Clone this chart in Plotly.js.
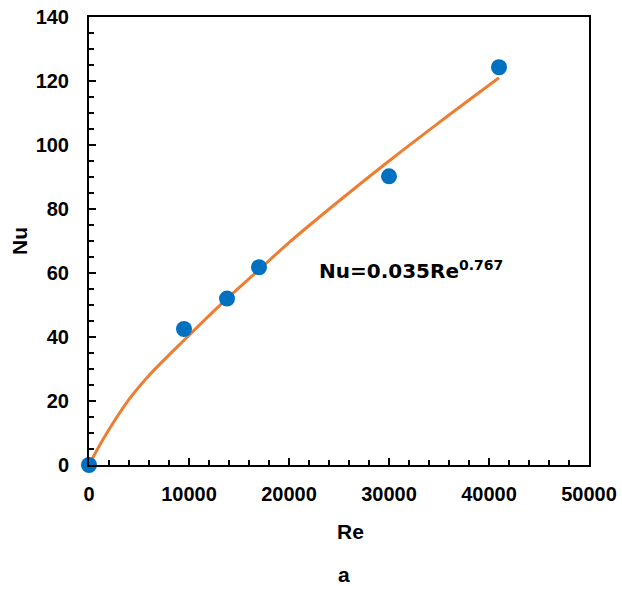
<!DOCTYPE html>
<html><head><meta charset="utf-8">
<script src="https://cdn.plot.ly/plotly-3.0.1.min.js"></script>
<style>html,body{margin:0;padding:0;background:#fff}</style>
</head><body>
<div id="chart" style="width:622px;height:589px"></div>
<script>
// Measured data
const reData = [0, 9500, 13800, 17000, 30000, 41000];
const nuData = [0, 42.5, 52, 61.8, 90.2, 124.3];
// Fitted correlation curve
const reFit = [0, 1500, 4000, 6000, 9500, 13800, 17000, 20000, 25000, 30000, 35000, 41000];
const nuFit = [0, 8.5, 20.5, 28, 39, 52, 61, 69.5, 82.5, 95, 107, 121];
const xTicks = [0, 10000, 20000, 30000, 40000, 50000];
const yTicks = [0, 20, 40, 60, 80, 100, 120, 140];

const fontFam = '"Liberation Sans", Arial, sans-serif';
const eqFam = '"DejaVu Sans", sans-serif';

const traces = [
  {x: reFit, y: nuFit, mode: 'lines', type: 'scatter',
   line: {color: '#ED7D31', width: 3, shape: 'spline', smoothing: 0.8},
   hoverinfo: 'skip', cliponaxis: false},
  {x: reData, y: nuData, mode: 'markers', type: 'scatter',
   marker: {color: '#0070C0', size: 16}, cliponaxis: false}
];

const axisCommon = {
  showgrid: false, zeroline: false, showline: true, linecolor: '#000', linewidth: 2,
  mirror: true, ticks: 'inside', ticklen: 7, tickwidth: 2, tickcolor: '#000',
  tickfont: {family: fontFam, size: 20, color: '#000', weight: 'bold'}
};

const pw = 622 - 89 - 33, ph = 589 - 17 - 124;
function px2paperX(px) { return (px - 89) / pw; }
function px2paperY(py) { return (465 - py) / ph; }
const tf = {family: fontFam, size: 21, color: '#000', weight: 'bold'};

const layout = {
  width: 622, height: 589,
  margin: {l: 89, r: 33, t: 17, b: 124},
  paper_bgcolor: '#fff', plot_bgcolor: '#fff',
  showlegend: false,
  xaxis: Object.assign({}, axisCommon, {
    range: [0, 50000], tickvals: xTicks, ticktext: xTicks.map(String),
    minor: {dtick: 2000, ticks: 'inside', ticklen: 5, tickwidth: 2, tickcolor: '#000'},
    ticklabelstandoff: 10
  }),
  yaxis: Object.assign({}, axisCommon, {
    range: [0, 140], tickvals: yTicks, ticktext: yTicks.map(String),
    minor: {dtick: 5, ticks: 'inside', ticklen: 5, tickwidth: 2, tickcolor: '#000'},
    ticklabelstandoff: 14
  }),
  annotations: [
    {text: 'Nu=0.035Re<sup>0.767</sup>', x: 22800, y: 61, xref: 'x', yref: 'y',
     xanchor: 'left', yanchor: 'middle', showarrow: false,
     font: {family: eqFam, size: 20, color: '#000', weight: 'bold'}},
    {text: 'Re', x: px2paperX(350), y: px2paperY(531), xref: 'paper', yref: 'paper',
     xanchor: 'center', yanchor: 'middle', showarrow: false, font: tf},
    {text: 'Nu', x: px2paperX(19), y: px2paperY(241), xref: 'paper', yref: 'paper',
     xanchor: 'center', yanchor: 'middle', showarrow: false, textangle: -90, font: tf},
    {text: 'a', x: px2paperX(344), y: px2paperY(574), xref: 'paper', yref: 'paper',
     xanchor: 'center', yanchor: 'middle', showarrow: false, font: tf}
  ]
};

Plotly.newPlot('chart', traces, layout, {displayModeBar: false, staticPlot: true});
</script>
</body></html>
